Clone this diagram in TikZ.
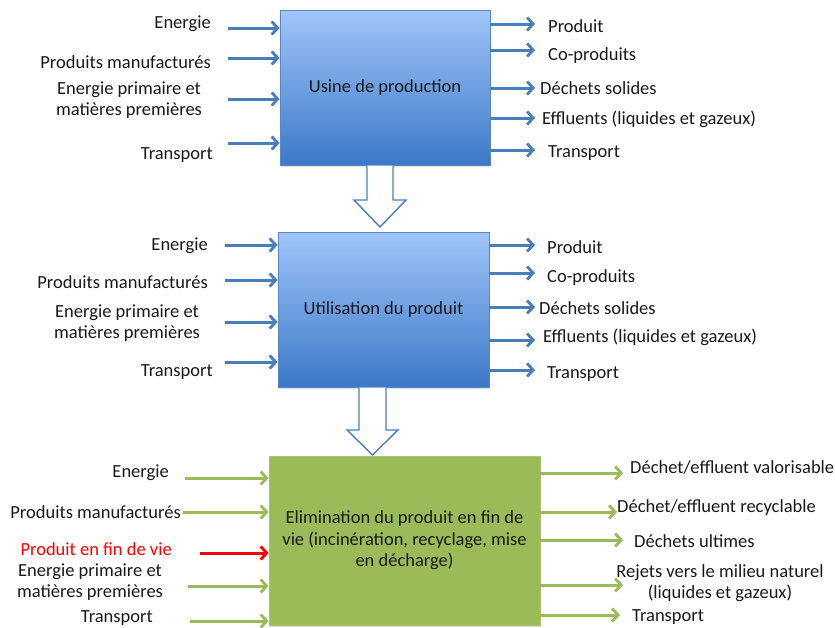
\documentclass[tikz,border=0pt]{standalone}
\usepackage{fontspec}
\setmainfont{Carlito}
\usetikzlibrary{arrows.meta,calc,shadows}
\definecolor{lineblue}{HTML}{4A7EBB}
\definecolor{boxtop}{RGB}{160,197,250}
\definecolor{boxbottom}{RGB}{60,121,200}
\definecolor{boxedge}{RGB}{90,135,195}
\definecolor{leafgreen}{HTML}{9BBB59}
\definecolor{greenedge}{RGB}{165,195,105}
\definecolor{txt}{RGB}{25,25,25}
\tikzset{
  x=1pt, y=-1pt,
  lbl/.style={font=\fontsize{18.5}{21}\selectfont, text=txt, inner sep=0pt},
  bluebox/.style={draw=boxedge, line width=0.8pt, top color=boxtop, bottom color=boxbottom,
    font=\fontsize{18.5}{21}\selectfont, text=txt,
    drop shadow={shadow xshift=1pt, shadow yshift=-2pt, opacity=0.25}},
  greenbox/.style={draw=greenedge, line width=0.8pt, fill=leafgreen,
    font=\fontsize{18.5}{21.5}\selectfont, text=txt, align=center, inner sep=2pt,
    drop shadow={shadow xshift=1pt, shadow yshift=-2pt, opacity=0.25}},
  flowblue/.style={draw=lineblue, line width=3pt, -{Straight Barb[length=6pt,width=13pt,line width=2.8pt]}},
  flowgreen/.style={flowblue, draw=leafgreen},
  flowred/.style={flowblue, draw=red},
  hollow/.style={draw=lineblue, line width=1.4pt, fill=white, line join=miter},
}
\begin{document}
\begin{tikzpicture}
\useasboundingbox (0,0) rectangle (835,627);

% --- the three stages ---
\node[bluebox, minimum width=210pt, minimum height=155pt] (b1) at (385,87.5) {Usine de production};
\node[bluebox, minimum width=211pt, minimum height=155pt] (b2) at (383.5,309.5) {Utilisation du produit};
\node[greenbox, minimum width=271pt, minimum height=169pt] (b3) at (404.5,540.5)
  {Elimination du produit en fin de\\vie (incinération, recyclage, mise\\en décharge)};

% --- block arrows between the stages ---
\draw[hollow] (367,165.5) -- (367,200) -- (354,200) -- (380,227) -- (406,200) -- (393,200) -- (393,165.5);
\draw[hollow] (359,387.5) -- (359,430) -- (347,430) -- (372.5,455) -- (398,430) -- (386,430) -- (386,387.5);

% --- stage 1: inputs ---
\node[lbl, anchor=east] (i1a) at (211,24) {Energie};
\node[lbl, anchor=east] (i1b) at (211,62) {Produits manufacturés};
\node[lbl, align=center] (i1c) at (129,100) {Energie primaire et\\matières premières};
\node[lbl, anchor=east] (i1d) at (213,155) {Transport};
\coordinate (s1a) at (228,28);
\coordinate (s1b) at (228,58);
\coordinate (s1c) at (228,99);
\coordinate (s1d) at (228,143);
\foreach \s in {s1a,s1b,s1c,s1d}
  \draw[flowblue] (\s) -- (\s -| b1.west);

% --- stage 1: outputs ---
\node[lbl, anchor=west] (o1a) at (548,26) {Produit};
\node[lbl, anchor=west] (o1b) at (548,56) {Co-produits};
\node[lbl, anchor=west] (o1c) at (540,88) {Déchets solides};
\node[lbl, anchor=west] (o1d) at (542,119) {Effluents (liquides et gazeux)};
\node[lbl, anchor=west] (o1e) at (548,153) {Transport};
\coordinate (e1a) at (535,24);
\coordinate (e1b) at (535,50);
\coordinate (e1c) at (535,88);
\coordinate (e1d) at (535,118);
\coordinate (e1e) at (535,150);
\foreach \e in {e1a,e1b,e1c,e1d,e1e}
  \draw[flowblue] (\e -| b1.east) -- (\e);

% --- stage 2: inputs ---
\node[lbl, anchor=east] (i2a) at (208,246) {Energie};
\node[lbl, anchor=east] (i2b) at (208,282) {Produits manufacturés};
\node[lbl, align=center] (i2c) at (127,323) {Energie primaire et\\matières premières};
\node[lbl, anchor=east] (i2d) at (213,372) {Transport};
\coordinate (s2a) at (225,245);
\coordinate (s2b) at (225,280);
\coordinate (s2c) at (225,322);
\coordinate (s2d) at (225,362);
\foreach \s in {s2a,s2b,s2c,s2d}
  \draw[flowblue] (\s) -- (\s -| b2.west);

% --- stage 2: outputs ---
\node[lbl, anchor=west] (o2a) at (547,247) {Produit};
\node[lbl, anchor=west] (o2b) at (547,278) {Co-produits};
\node[lbl, anchor=west] (o2c) at (539,308) {Déchets solides};
\node[lbl, anchor=west] (o2d) at (543,337) {Effluents (liquides et gazeux)};
\node[lbl, anchor=west] (o2e) at (547,374) {Transport};
\coordinate (e2a) at (535,245);
\coordinate (e2b) at (535,273);
\coordinate (e2c) at (535,307);
\coordinate (e2d) at (535,340);
\coordinate (e2e) at (535,370);
\foreach \e in {e2a,e2b,e2c,e2d,e2e}
  \draw[flowblue] (\e -| b2.east) -- (\e);

% --- stage 3: inputs ---
\node[lbl, anchor=east] (i3a) at (169,473) {Energie};
\node[lbl, anchor=east] (i3b) at (181,512) {Produits manufacturés};
\node[lbl, anchor=east, text=red] (i3c) at (172,549) {Produit en fin de vie};
\node[lbl, align=center] (i3d) at (90,582) {Energie primaire et\\matières premières};
\node[lbl, anchor=east] (i3e) at (153,618) {Transport};
\coordinate (s3a) at (185,478);
\coordinate (s3b) at (183,512);
\coordinate (s3c) at (200,553);
\coordinate (s3d) at (188,586);
\coordinate (s3e) at (190,621);
\foreach \s in {s3a,s3b,s3d,s3e}
  \draw[flowgreen] (\s) -- (\s -| b3.west);
\draw[flowred] (s3c) -- (s3c -| b3.west);

% --- stage 3: outputs ---
\node[lbl, anchor=west] (o3a) at (630,467) {Déchet/effluent valorisable};
\node[lbl, anchor=west] (o3b) at (617,508) {Déchet/effluent recyclable};
\node[lbl, anchor=west] (o3c) at (634,541) {Déchets ultimes};
\node[lbl, align=center] (o3d) at (720,583) {Rejets vers le milieu naturel\\(liquides et gazeux)};
\node[lbl, anchor=west] (o3e) at (632,617) {Transport};
\coordinate (e3a) at (623,473);
\coordinate (e3b) at (617,512);
\coordinate (e3c) at (623,540);
\coordinate (e3d) at (623,585);
\coordinate (e3e) at (620,615);
\foreach \e in {e3a,e3b,e3c,e3d,e3e}
  \draw[flowgreen] (\e -| b3.east) -- (\e);
\end{tikzpicture}
\end{document}
